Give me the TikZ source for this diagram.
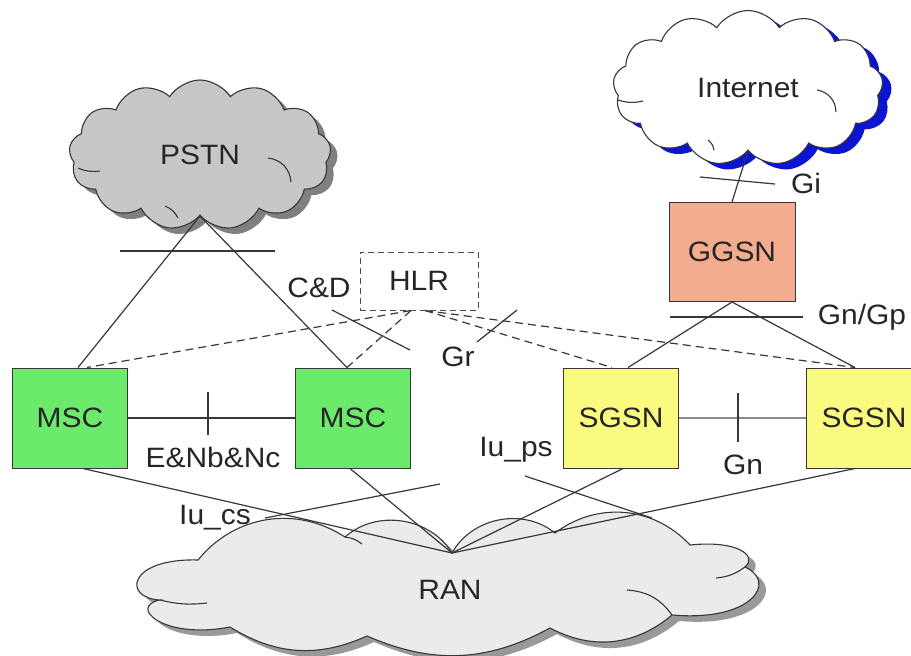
\documentclass[tikz,border=0pt]{standalone}
\usepackage{fontspec}
\setmainfont{Liberation Sans}[FakeStretch=1.07]
\usetikzlibrary{shapes.symbols}
\definecolor{mscgreen}{RGB}{108,234,108}
\definecolor{sgsnyellow}{RGB}{250,250,128}
\definecolor{ggsnsalmon}{RGB}{243,172,142}
\definecolor{linegray}{RGB}{55,55,55}
\definecolor{netblue}{RGB}{10,20,210}
\tikzset{
  box/.style={draw=linegray, line width=1pt, minimum width=115pt, minimum height=100pt,
    text=black!85, font=\fontsize{28}{31}\selectfont},
  link/.style={draw=linegray, line width=1.2pt},
  hlrlink/.style={link, dash pattern=on 8pt off 5pt},
  lbl/.style={text=black!85, inner sep=0pt, font=\fontsize{28}{31}\selectfont},
  net/.style={cloud, cloud puffs=13, cloud puff arc=115, aspect=1.8, inner sep=0pt,
    draw=linegray, line width=1.1pt, text=black!85, font=\fontsize{28}{31}\selectfont},
  netshadow/.style={net, draw=none},
  puffline/.style={draw=linegray, line width=1.1pt}
}
% outline of the radio access cloud
\def\ranoutline{(160,600) .. controls (122,598) and (128,558) .. (198,560)
  to[bend left=42] (345,537) to[bend left=50] (452,553) to[bend left=50] (555,533)
  to[bend left=42] (690,545) .. controls (738,540) and (758,556) .. (745,567)
  .. controls (778,582) and (752,622) .. (672,615) to[bend left=34] (550,628)
  to[bend left=26] (367,636) to[bend left=28] (230,627)
  .. controls (162,640) and (128,606) .. (160,600) -- cycle}
\begin{document}
\begin{tikzpicture}[x=1pt, y=-1pt]
\useasboundingbox (0,0) rectangle (911,656);
%%%%% START %%%%%

% clouds
\node[netshadow, fill=black!50, minimum width=262pt, minimum height=150pt] at (207,161) {};
\node[net, fill=black!22, minimum width=262pt, minimum height=150pt] (pstn) at (200,155) {PSTN};
\draw[puffline] (268,158) to[bend left=40] (291,182);
\draw[puffline] (78,168) to[bend right=15] (100,171);
\draw[puffline] (165,206) to[bend left=20] (178,218);

\node[netshadow, fill=netblue, minimum width=270pt, minimum height=155pt] at (757,94) {};
\node[net, fill=white, minimum width=270pt, minimum height=155pt] (inet) at (748,88) {Internet};
\draw[puffline] (817,90) to[bend left=40] (836,112);
\draw[puffline] (618,100) to[bend right=15] (643,101);
\draw[puffline] (708,140) to[bend left=20] (714,150);

\fill[black!40, shift={(7,6)}] \ranoutline;
\draw[puffline, fill=black!8] \ranoutline;
\draw[puffline] (160,600) to[bend right=10] (207,603);
\draw[puffline] (627,590) to[bend left=25] (672,615);
\draw[puffline] (716,578) to[bend right=15] (745,567);
\draw[puffline] (345,537) to[bend left=15] (362,544);
\node[lbl] (ran) at (450,590) {RAN};
\coordinate (ranhub) at (452,553);

% boxes
\node[box, fill=mscgreen] (msc1) at (70,418) {MSC};
\node[box, fill=mscgreen] (msc2) at (353,418) {MSC};
\node[box, fill=sgsnyellow] (sgsn1) at (621,418) {SGSN};
\node[box, fill=sgsnyellow] (sgsn2) at (864,418) {SGSN};
\node[box, fill=ggsnsalmon, minimum width=126pt, minimum height=99pt] (ggsn) at (732,252) {GGSN};
\node[box, draw=black!70, dash pattern=on 6pt off 4pt, minimum width=118pt, minimum height=58pt] (hlr) at (419,281) {HLR};

% PSTN side
\draw[link] (pstn.south) -- ([xshift=8pt]msc1.north);
\draw[link] (pstn.south) -- ([xshift=-6pt]msc2.north);
\draw[link] (120,251) -- (275,251);

% HLR signalling
\draw[hlrlink] ([xshift=-8pt]hlr.south) -- ([xshift=17pt]msc1.north);
\draw[hlrlink] ([xshift=-8pt]hlr.south) -- ([xshift=-6pt]msc2.north);
\draw[hlrlink] ([xshift=6pt]hlr.south) -- ([xshift=-9pt]sgsn1.north);
\draw[hlrlink] ([xshift=6pt]hlr.south) -- ([xshift=-9pt]sgsn2.north);
\draw[link] (332,310) -- (410,350);
\draw[link] (477,342) -- (517,310);

% packet core
\draw[link] (inet.south) -- (ggsn.north);
\draw[link] (700,177) -- (775,184);
\draw[link] (ggsn.south) -- ([xshift=7pt]sgsn1.north);
\draw[link] (ggsn.south) -- ([xshift=-9pt]sgsn2.north);
\draw[link] (670,317) -- (803,317);

% inter-node links
\draw[link] (msc1) -- (msc2);
\draw[link] (208,392) -- (208,435);
\draw[link, draw=black!45] (sgsn1) -- (sgsn2);
\draw[link] (738,393) -- (738,442);

% radio access
\draw[link] ([xshift=13pt]msc1.south) -- (ranhub);
\draw[link] ([xshift=-3pt]msc2.south) -- (ranhub);
\draw[link] ([xshift=2pt]sgsn1.south) -- (ranhub);
\draw[link] ([xshift=-9pt]sgsn2.south) -- (ranhub);
\draw[link] (265,518) -- (440,484);
\draw[link] (525,476) -- (652,518);

% labels
\node[lbl] (cdlbl) at (319,288) {C\&D};
\node[lbl] (grlbl) at (458,357) {Gr};
\node[lbl] (gilbl) at (806,183) {Gi};
\node[lbl] (gnplbl) at (862,317) {Gn/Gp};
\node[lbl] (enlbl) at (213,457) {E\&Nb\&Nc};
\node[lbl] (gnlbl) at (743,465) {Gn};
\node[lbl] (iucslbl) at (215,518) {Iu\_cs};
\node[lbl] (iupslbl) at (516,450) {Iu\_ps};

%%%%% END %%%%%
\end{tikzpicture}
\end{document}
